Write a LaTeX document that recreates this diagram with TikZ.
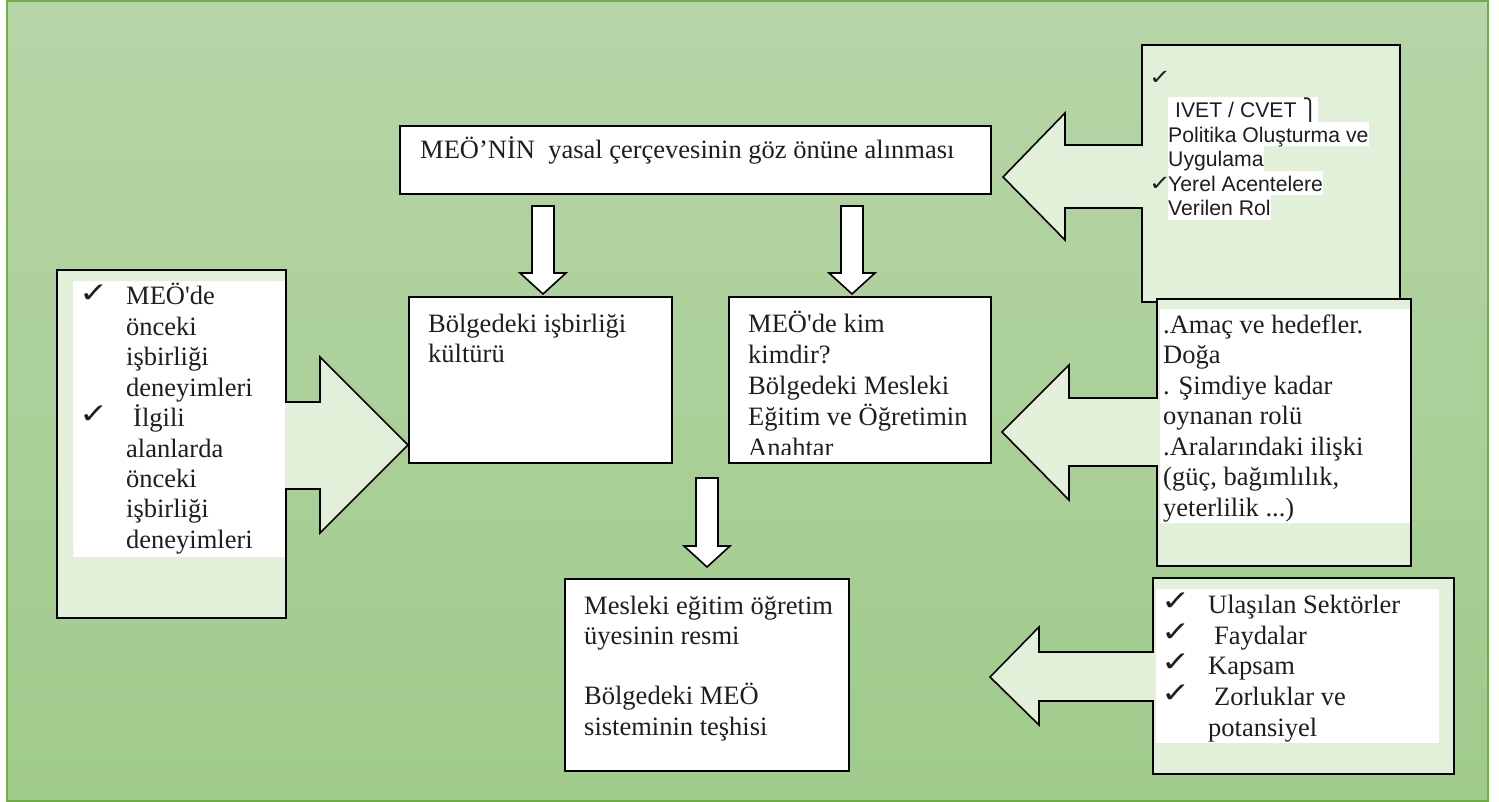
\documentclass[tikz,border=0pt]{standalone}
\usepackage{fontspec}
\setmainfont{Liberation Serif}[Ligatures=TeXOff]
\newfontfamily\arialfont{Liberation Sans}
\newfontfamily\symfont{DejaVu Sans}
\definecolor{bgtop}{RGB}{183,213,167}
\definecolor{bgbot}{RGB}{159,203,139}
\definecolor{framegreen}{RGB}{112,173,71}
\definecolor{panel}{RGB}{226,239,217}
\definecolor{ink}{RGB}{30,30,30}
\newcommand\chk[1]{\scalebox{1.25}[1]{\fontsize{#1}{#1}\selectfont ✓}}
\tikzset{
  plainbox/.style={draw=black, fill=white, line width=1.6pt, inner sep=0pt, anchor=north west},
  callout/.style={draw=black, fill=panel, line width=1.6pt, line join=miter},
  downarrow/.style={draw=black, fill=white, line width=1.6pt, line join=miter},
  serif/.style={anchor=base west, inner sep=0pt, text=ink, font=\fontsize{26.5}{30}\selectfont},
  sans/.style={anchor=base west, inner sep=0pt, text=ink, font=\arialfont\fontsize{21.2}{24}\selectfont},
  hl/.style={sans, fill=white, text height=20.5pt, text depth=4pt},
  tick/.style={anchor=base west, inner sep=0pt, text=ink, font=\symfont},
  pics/blockdown/.style={code={
    \draw[downarrow] (-11,-#1) -- (11,-#1) -- (11,-21) -- (23,-21) -- (0,0)
      -- (-23,-21) -- (-11,-21) -- cycle;}}
}
\begin{document}
\begin{tikzpicture}[x=1pt,y=-1pt]
\useasboundingbox (0,0) rectangle (1499,802);

% page background with green frame
\shade[top color=bgtop, bottom color=bgbot] (6,0) rectangle (1488,801);
\draw[framegreen, line width=2pt] (7,1) rectangle (1488,801);

% left callout: experiences feeding the cooperation culture
\draw[callout] (57,270) -- (286,270) -- (286,402) -- (320,402) -- (320,357)
  -- (408,445) -- (320,533) -- (320,489) -- (286,489) -- (286,618) -- (57,618) -- cycle;
\fill[white] (73,281) rectangle (285,557);

% top right callout: IVET / CVET
\draw[callout] (1142,45) -- (1400,45) -- (1400,302) -- (1142,302) -- (1142,208)
  -- (1065,208) -- (1065,240) -- (1003,177) -- (1065,113) -- (1065,145) -- (1142,145) -- cycle;

% middle right callout: aims, role, relations
\draw[callout] (1157,299) -- (1411,299) -- (1411,566) -- (1157,566) -- (1157,466)
  -- (1069,466) -- (1069,500) -- (1002,432) -- (1069,365) -- (1069,398) -- (1157,398) -- cycle;
\fill[white] (1160,309) rectangle (1410,523);

% bottom right callout: sectors, benefits, scope
\draw[callout] (1153,578) -- (1454,578) -- (1454,774) -- (1153,774) -- (1153,701)
  -- (1039,701) -- (1039,725) -- (990,677) -- (1039,627) -- (1039,652) -- (1153,652) -- cycle;
\fill[white] (1156,589) rectangle (1439,743);

% central boxes
\node[plainbox, minimum width=591pt, minimum height=68pt] (title) at (399,125) {};
\node[plainbox, minimum width=263pt, minimum height=166pt] (culture) at (408,296) {};
\node[plainbox, minimum width=262pt, minimum height=166pt] (who) at (728,296) {};
\node[plainbox, minimum width=284pt, minimum height=192pt] (picture) at (564,578) {};

% block arrows between the boxes
\coordinate (tipA) at (543,294);
\coordinate (tipB) at (852,294);
\coordinate (tipC) at (707,567);
\pic at (tipA) {blockdown=88};
\pic at (tipB) {blockdown=88};
\pic at (tipC) {blockdown=89};

% box texts
\node[serif] (titletext) at (420,159) {MEÖ’NİN\ \ yasal çerçevesinin göz önüne alınması};
\node[serif] (cult1) at (428,332) {Bölgedeki işbirliği};
\node[serif] (cult2) at (428,362) {kültürü};
\begin{scope}
  \clip (729,297) rectangle (989,454);
  \node[serif] (who1) at (748,332) {MEÖ'de kim};
  \node[serif] (who2) at (748,363) {kimdir?};
  \node[serif] (who3) at (748,394) {Bölgedeki Mesleki};
  \node[serif] (who4) at (748,425) {Eğitim ve Öğretimin};
  \node[serif] (who5) at (748,456) {Anahtar};
\end{scope}
\node[serif] (pic1) at (584,614) {Mesleki eğitim öğretim};
\node[serif] (pic2) at (584,644) {üyesinin resmi};
\node[serif] (pic3) at (584,704) {Bölgedeki MEÖ};
\node[serif] (pic4) at (584,735) {sisteminin teşhisi};

% left list
\node[tick] (lt1) at (79,302) {\chk{28}};
\node[tick] (lt2) at (79,423.6) {\chk{28}};
\node[serif] (lp1) at (126,305) {MEÖ'de};
\node[serif] (lp2) at (126,335.4) {önceki};
\node[serif] (lp3) at (126,365.8) {işbirliği};
\node[serif] (lp4) at (126,396.2) {deneyimleri};
\node[serif] (lp5) at (133,426.6) {İlgili};
\node[serif] (lp6) at (126,457) {alanlarda};
\node[serif] (lp7) at (126,487.4) {önceki};
\node[serif] (lp8) at (126,517.8) {işbirliği};
\node[serif] (lp9) at (126,548.2) {deneyimleri};

% top right list
\node[tick] (tt1) at (1149,85) {\chk{21}};
\node[hl] (tr1) at (1168,118) {\hspace*{7pt}IVET / CVET {\symfont ⎫}};
\node[hl] (tr2) at (1168,142.5) {Politika Oluşturma ve};
\node[hl] (tr3) at (1168,167) {Uygulama};
\node[tick] (tt2) at (1149,190.5) {\chk{21}};
\node[hl] (tr4) at (1168,191.5) {Yerel Acentelere};
\node[hl] (tr5) at (1168,216) {Verilen Rol};

% middle right list
\node[serif] (mr1) at (1163,333) {.Amaç ve hedefler.};
\node[serif] (mr2) at (1163,363.5) {Doğa};
\node[serif] (mr3) at (1163,394) {. Şimdiye kadar};
\node[serif] (mr4) at (1163,424.5) {oynanan rolü};
\node[serif] (mr5) at (1163,455) {.Aralarındaki ilişki};
\node[serif] (mr6) at (1163,485.5) {(güç, bağımlılık,};
\node[serif] (mr7) at (1163,516) {yeterlilik ...)};

% bottom right list
\node[tick] (bt1) at (1161,610) {\chk{28}};
\node[tick] (bt2) at (1161,641) {\chk{28}};
\node[tick] (bt3) at (1161,671.5) {\chk{28}};
\node[tick] (bt4) at (1161,702) {\chk{28}};
\node[serif] (br1) at (1208,613) {Ulaşılan Sektörler};
\node[serif] (br2) at (1214,644) {Faydalar};
\node[serif] (br3) at (1208,674.5) {Kapsam};
\node[serif] (br4) at (1214,705) {Zorluklar ve};
\node[serif] (br5) at (1208,736) {potansiyel};
\end{tikzpicture}
\end{document}
